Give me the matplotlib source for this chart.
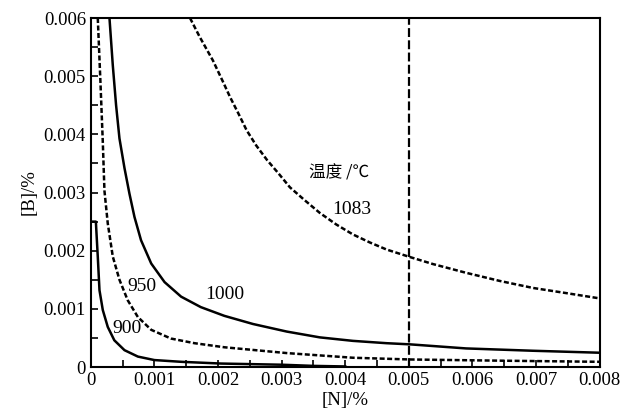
import matplotlib.pyplot as plt
from matplotlib.ticker import MultipleLocator

# values: [N] in %, [B] in %
n_1083 = [0.00156, 0.00171, 0.00192, 0.00208, 0.00219, 0.00232, 0.00245, 0.0026,
          0.00277, 0.00295, 0.00313, 0.00336, 0.0036, 0.00386, 0.00412, 0.00439,
          0.00465, 0.00502, 0.00538, 0.0059, 0.00643, 0.00695, 0.00748, 0.008]
b_1083 = [0.0060, 0.00568, 0.00527, 0.0049, 0.00464, 0.00436, 0.00407, 0.00381,
          0.00356, 0.00333, 0.00309, 0.00287, 0.00265, 0.00245, 0.00228, 0.00214,
          0.00202, 0.00189, 0.00177, 0.00162, 0.00148, 0.00136, 0.00127, 0.00118]

n_1000 = [0.000294, 0.000346, 0.000398, 0.000451, 0.00053, 0.000608, 0.000687,
          0.00079, 0.00095, 0.00116, 0.00142, 0.00173, 0.0021, 0.00255, 0.00308,
          0.0036, 0.00412, 0.00465, 0.00502, 0.0059, 0.00695, 0.008]
b_1000 = [0.0060, 0.00519, 0.0045, 0.00393, 0.00342, 0.00298, 0.00258,
          0.00218, 0.00178, 0.00146, 0.00121, 0.00103, 0.00088, 0.00074, 0.00061,
          0.00051, 0.00045, 0.00041, 0.00039, 0.00032, 0.00028, 0.000246]

n_950 = [0.00011, 0.000152, 0.000189, 0.000215, 0.000267, 0.000346, 0.000451,
         0.00058, 0.00074, 0.00095, 0.00126, 0.00163, 0.0021, 0.00308, 0.00412,
         0.00502, 0.0064, 0.008]
b_950 = [0.0060, 0.0049, 0.00387, 0.00303, 0.00247, 0.0019, 0.0015,
         0.00115, 0.00086, 0.00064, 0.00049, 0.00041, 0.00034, 0.00024, 0.00016,
         0.00013, 0.00011, 0.00009]

n_900 = [0.00001, 0.00008, 0.00011, 0.000137, 0.000189, 0.000267, 0.00037, 0.00053,
         0.00074, 0.001, 0.00142, 0.00205, 0.003, 0.0035, 0.004]
b_900 = [0.0025, 0.0025, 0.0019, 0.00132, 0.00098, 0.00069, 0.00046, 0.00029,
         0.00018, 0.00012, 0.00009, 0.00006, 0.00004, 0.00002, 0.00001]

n_marker = 0.005

fig = plt.figure(figsize=(6.26, 4.19), dpi=100)
ax = fig.add_axes([0.145, 0.124, 0.813, 0.833])

lw = 1.8
style = dict(color='black', lw=lw, solid_joinstyle='round', dash_joinstyle='round')
ax.plot(n_1083, b_1083, dashes=(2, 1), **style)
ax.plot(n_1000, b_1000, **style)
ax.plot(n_950, b_950, dashes=(2, 1), **style)
ax.plot(n_900, b_900, **style)
ax.axvline(n_marker, color='black', lw=1.6, dashes=(4, 1.5))

serif = 'Liberation Serif'
ax.text(0.0041, 0.0027, '1083', fontsize=14, family=serif, ha='center', va='center')
ax.text(0.00211, 0.00124, '1000', fontsize=14, family=serif, ha='center', va='center')
ax.text(0.0008, 0.00139, '950', fontsize=14, family=serif, ha='center', va='center')
ax.text(0.00057, 0.00067, '900', fontsize=14, family=serif, ha='center', va='center')
ax.text(0.0039, 0.00333, '温度 /℃', fontsize=12, family=['Noto Sans CJK SC', 'DejaVu Sans'],
        ha='center', va='center')

ax.set_xlim(0, 0.008)
ax.set_ylim(0, 0.006)
ax.xaxis.set_major_locator(MultipleLocator(0.001))
ax.xaxis.set_minor_locator(MultipleLocator(0.0005))
ax.yaxis.set_major_locator(MultipleLocator(0.001))
ax.yaxis.set_minor_locator(MultipleLocator(0.0005))
fmt = plt.FuncFormatter(lambda v, p: '0' if v == 0 else f'{v:.3f}')
ax.xaxis.set_major_formatter(fmt)
ax.yaxis.set_major_formatter(fmt)
ax.tick_params(which='both', direction='in', length=5, width=1.2)
ax.tick_params(labelsize=13.5)
for lab in ax.get_xticklabels() + ax.get_yticklabels():
    lab.set_family(serif)
for sp in ax.spines.values():
    sp.set_linewidth(1.5)

ax.set_xlabel('[N]/%', fontsize=13.5, family=serif, labelpad=2)
ax.set_ylabel('[B]/%', fontsize=13.5, family=serif, labelpad=4)

fig.savefig('out.png', dpi=100)
